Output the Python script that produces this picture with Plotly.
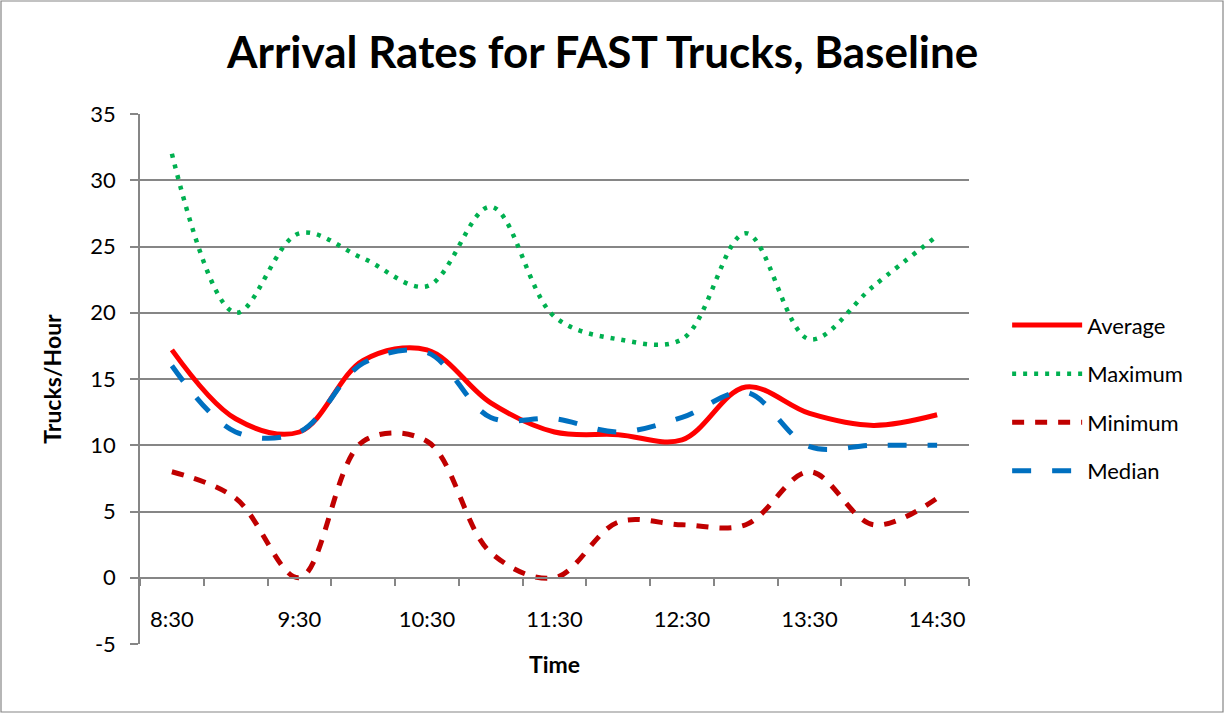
import plotly.graph_objects as go

# half-hour slots, labels shown every hour
times = ["8:30", "9:00", "9:30", "10:00", "10:30", "11:00", "11:30",
         "12:00", "12:30", "13:00", "13:30", "14:00", "14:30"]
average = [17.2, 12.0, 11.0, 16.4, 17.2, 13.2, 11.0, 10.8, 10.4, 14.4, 12.4, 11.5, 12.3]
maximum = [32.0, 20.0, 26.0, 24.1, 22.0, 28.0, 19.7, 18.0, 18.0, 26.0, 18.0, 22.0, 25.8]
minimum = [8.0, 6.0, 0.0, 10.3, 10.3, 1.9, 0.0, 4.2, 4.0, 4.0, 8.0, 4.0, 6.0]
median = [16.0, 11.0, 11.0, 16.2, 17.0, 12.1, 12.0, 11.0, 12.1, 14.0, 9.9, 10.0, 10.0]
y_ticks = [-5, 0, 5, 10, 15, 20, 25, 30, 35]

x = list(range(len(times)))
boundaries = [i - 0.5 for i in range(len(times) + 1)]

FONT = "Lato"
GRID = "#868686"

fig = go.Figure()
fig.add_trace(go.Scatter(x=x, y=average, name="Average", mode="lines", legendgroup="a",
                         line=dict(color="#FF0000", width=5, shape="spline")))
fig.add_trace(go.Scatter(x=x, y=maximum, name="Maximum", mode="lines", legendgroup="b",
                         line=dict(color="#00B050", width=4.5, shape="spline", dash="4px,7px")))
fig.add_trace(go.Scatter(x=x, y=minimum, name="Minimum", mode="lines", legendgroup="c",
                         line=dict(color="#C00000", width=5, shape="spline", dash="12px,11px")))
fig.add_trace(go.Scatter(x=x, y=median, name="Median", mode="lines", legendgroup="d",
                         line=dict(color="#0070C0", width=5, shape="spline", dash="19px,21px")))

fig.update_layout(
    width=1225, height=714,
    margin=dict(l=140, r=256, t=114, b=70),
    paper_bgcolor="white", plot_bgcolor="white",
    font=dict(family=FONT, size=22, color="black"),
    title=dict(text="<b>Arrival Rates for FAST Trucks, Baseline</b>",
               font=dict(size=44, family=FONT, color="black"),
               x=0.492, xanchor="center", y=0.926, yanchor="middle"),
    legend=dict(x=1.046, y=0.641, xanchor="left", yanchor="top",
                font=dict(size=22), tracegroupgap=17, itemwidth=70,
                bgcolor="rgba(0,0,0,0)"),
    shapes=[dict(type="rect", xref="paper", yref="paper",
                 x0=-139 / 829, x1=1083 / 829, y0=-68 / 530, y1=643 / 530,
                 line=dict(color="#868686", width=1.2), layer="below")],
)

fig.update_yaxes(
    range=[-5, 35], tickvals=y_ticks, ticktext=[str(v) for v in y_ticks],
    showgrid=True, gridcolor=GRID, gridwidth=1.5,
    showline=True, linecolor=GRID, linewidth=1.5,
    ticks="outside", ticklen=8, tickcolor=GRID, tickwidth=1.5,
    ticklabelstandoff=10,
    zeroline=False, tickfont=dict(size=22),
    title=dict(text="<b>Trucks/Hour</b>", font=dict(size=23), standoff=22),
)

fig.update_xaxes(
    range=[-0.5, len(times) - 0.5],
    tickvals=x[::2], ticktext=times[::2],
    ticks="", showgrid=False, zeroline=False,
    showline=True, linecolor=GRID, linewidth=1.5,
    anchor="free", position=5 / 40,
    ticklabelstandoff=22, tickfont=dict(size=22),
    minor=dict(tickvals=boundaries, ticks="outside", ticklen=7,
               tickcolor=GRID, tickwidth=1.5, showgrid=False),
    title=dict(text="<b>Time</b>", font=dict(size=23), standoff=25),
)

fig.write_html("out.html", config={"displayModeBar": False},
               post_script="document.body.style.margin = '0px';")
